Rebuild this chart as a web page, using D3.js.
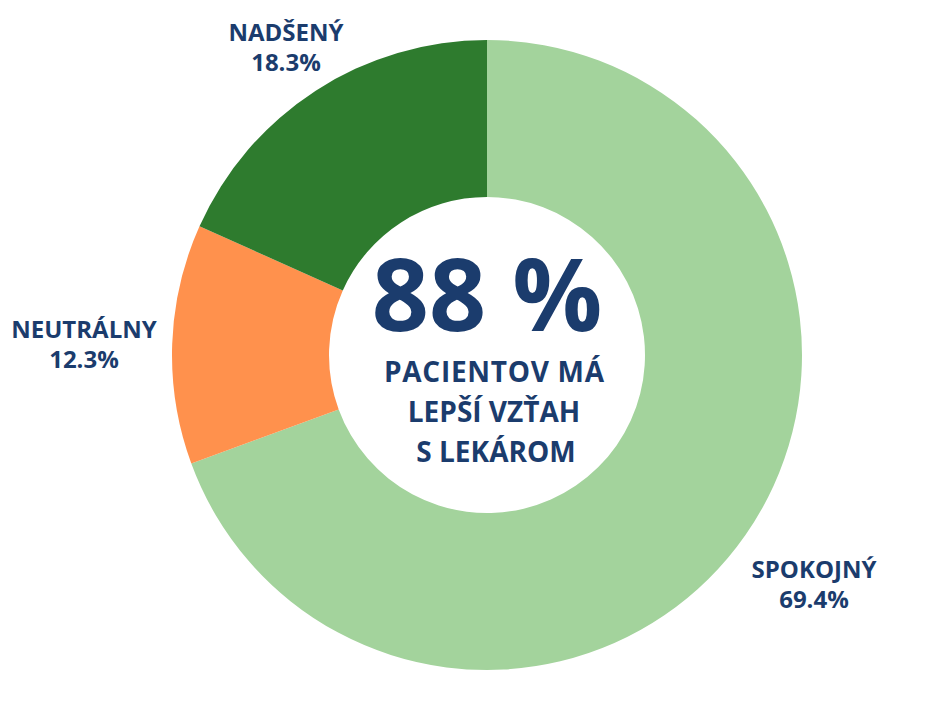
<!DOCTYPE html>
<html><head><meta charset="utf-8">
<script src="https://cdn.jsdelivr.net/npm/d3@7"></script>
<style>body{margin:0;background:#fff}text{font-family:"Open Sans",sans-serif;font-weight:700;fill:#1b3c6d}</style>
</head><body>
<svg id="c" width="945" height="710"></svg>
<script>
const categories = ["SPOKOJNÝ","NEUTRÁLNY","NADŠENÝ"];
const values = [69.4,12.3,18.3];
const colors = ["#a3d39c","#ff914d","#2e7b2e"];
const labelPos = [[814,578],[84,338],[286,41]];
const centerLines = ["PACIENTOV MÁ","LEPŠÍ VZŤAH","S LEKÁROM"];

const svg = d3.select("#c");
const g = svg.append("g").attr("transform","translate(487,355)");
const pie = d3.pie().sort(null).value(d=>d);
const arc = d3.arc().innerRadius(158).outerRadius(315);
g.selectAll("path").data(pie(values)).join("path").attr("d",arc).attr("fill",(d,i)=>colors[i]);
categories.forEach((c,i)=>{
  const t = svg.append("text").attr("x",labelPos[i][0]).attr("y",labelPos[i][1]).attr("text-anchor","middle").attr("font-size",24);
  t.append("tspan").attr("x",labelPos[i][0]).text(c);
  t.append("tspan").attr("x",labelPos[i][0]).attr("dy",30).text(values[i].toFixed(1)+"%");
});
g.append("text").attr("text-anchor","middle").attr("y",-24).attr("font-size",100).text("88 %");
centerLines.forEach((l,i)=>g.append("text").attr("text-anchor","middle").attr("x",i==2?9:7).attr("y",27+i*40).attr("font-size",28).attr("textLength",i==0?220:null).text(l));
</script></body></html>
